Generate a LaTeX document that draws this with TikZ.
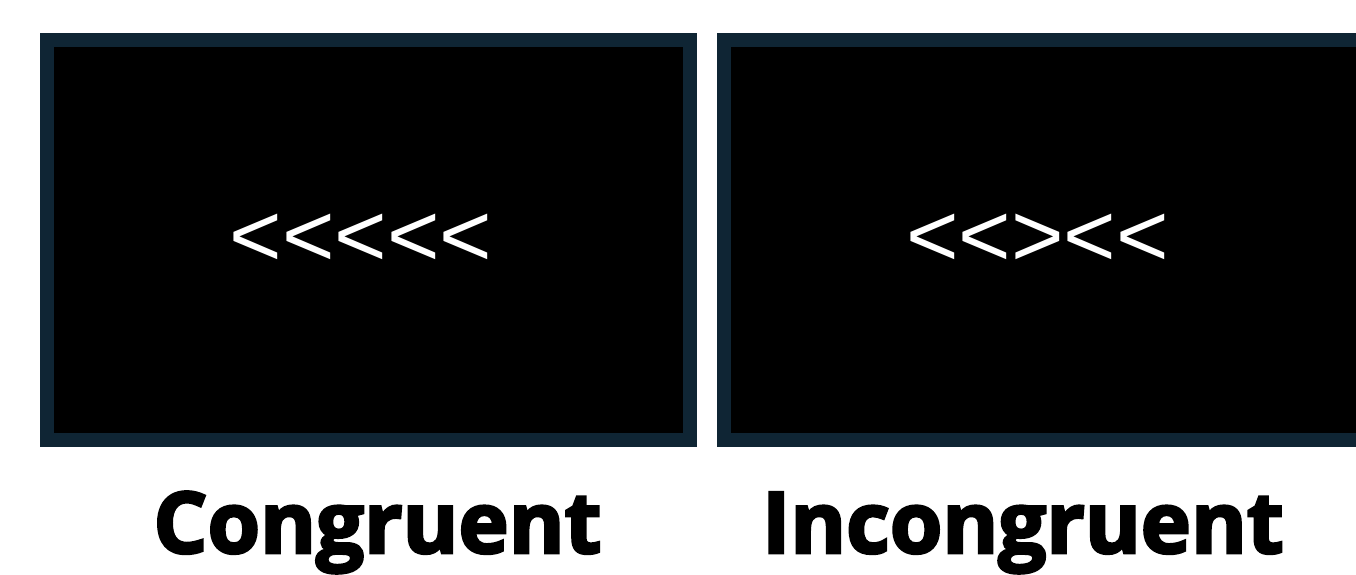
\documentclass[tikz,border=0pt]{standalone}
\usepackage{fontspec}
\setmainfont{Liberation Sans}
\newfontfamily\chevfont{Liberation Sans}
\newfontfamily\labelfont{Open Sans}[BoldFeatures={FakeBold=3.2}]
\definecolor{frame}{RGB}{15,37,52}
\begin{document}
\begin{tikzpicture}[x=1pt,y=-1pt,
  panel/.style={draw=frame, line width=14pt, fill=black, minimum width=643pt,
    minimum height=400pt, inner sep=0pt, outer sep=0pt},
  chevrons/.style={text=white, font=\chevfont\fontsize{90}{90}\selectfont,
    inner sep=0pt, anchor=base},
  caption/.style={text=black, font=\labelfont\bfseries\fontsize{85}{85}\selectfont,
    inner sep=0pt, anchor=base}]
\useasboundingbox (0,0) rectangle (1356,574);
\clip (0,0) rectangle (1356,574);
\node[panel] (congr) at (368.5,240) {};
\node[panel] (incongr) at (1045.5,240) {};
\node[chevrons] (flankC) at (361,266) {<<<<<};
\node[chevrons] (flankI) at (1037.5,266) {<<><<};
\node[caption] (labC) at (377.5,553) {Congruent};
\node[caption] (labI) at (1023,553) {Incongruent};
\end{tikzpicture}
\end{document}
